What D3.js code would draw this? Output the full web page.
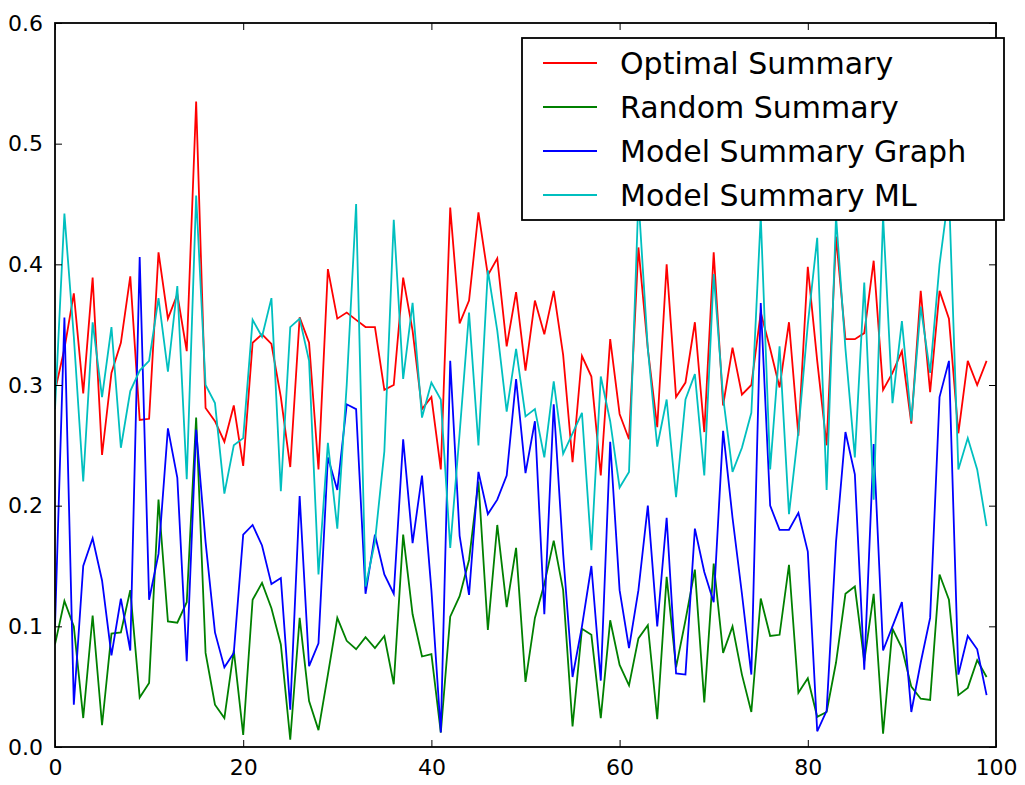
<!DOCTYPE html>
<html lang="en">
<head>
    <meta charset="UTF-8">
    <title>Summary scores</title>
    <style>
        body {
            margin: 0;
            padding: 0;
            background: #fff;
        }
        svg {
            font-family: "DejaVu Sans", sans-serif;
        }
        .series {
            fill: none;
            stroke-width: 1.8px;
            stroke-linejoin: miter;
        }
        .tick-label {
            font-size: 22px;
            fill: #000;
        }
        .legend text {
            font-size: 30px;
            fill: #000;
        }
    </style>
</head>
<body>
    <div id="chart"></div>

    <script src="https://d3js.org/d3.v7.min.js"></script>
    <script>
        // Values, one per document index 0..99
        const optimal = [
            0.295, 0.33, 0.376, 0.293, 0.389, 0.242, 0.31, 0.335, 0.39, 0.271,
            0.272, 0.41, 0.355, 0.375, 0.328, 0.535, 0.281, 0.27, 0.253, 0.283,
            0.233, 0.335, 0.342, 0.334, 0.29, 0.232, 0.356, 0.335, 0.23, 0.396,
            0.355, 0.36, 0.354, 0.348, 0.348, 0.296, 0.30, 0.389, 0.345, 0.28,
            0.29, 0.23, 0.447, 0.351, 0.37, 0.443, 0.391, 0.405, 0.332, 0.377,
            0.312, 0.37, 0.342, 0.378, 0.325, 0.236, 0.324, 0.307, 0.225, 0.338,
            0.276, 0.255, 0.414, 0.33, 0.265, 0.40, 0.29, 0.302, 0.352, 0.261,
            0.41, 0.283, 0.331, 0.292, 0.30, 0.36, 0.33, 0.298, 0.352, 0.258,
            0.398, 0.32, 0.25, 0.423, 0.338, 0.338, 0.343, 0.403, 0.296, 0.31,
            0.328, 0.268, 0.378, 0.294, 0.378, 0.355, 0.26, 0.32, 0.30, 0.32
        ];
        const random = [
            0.085, 0.121, 0.10, 0.024, 0.109, 0.018, 0.094, 0.095, 0.13, 0.041,
            0.053, 0.205, 0.104, 0.103, 0.12, 0.273, 0.078, 0.035, 0.024, 0.08,
            0.01, 0.122, 0.136, 0.115, 0.085, 0.006, 0.107, 0.038, 0.014, 0.06,
            0.107, 0.088, 0.081, 0.091, 0.082, 0.092, 0.052, 0.176, 0.11, 0.075,
            0.077, 0.012, 0.108, 0.125, 0.155, 0.22, 0.097, 0.184, 0.116, 0.165,
            0.054, 0.107, 0.135, 0.171, 0.13, 0.017, 0.098, 0.093, 0.024, 0.105,
            0.068, 0.051, 0.09, 0.101, 0.023, 0.141, 0.066, 0.105, 0.147, 0.037,
            0.152, 0.078, 0.10, 0.06, 0.029, 0.123, 0.092, 0.093, 0.151, 0.045,
            0.057, 0.025, 0.029, 0.07, 0.127, 0.133, 0.071, 0.127, 0.011, 0.098,
            0.082, 0.05, 0.04, 0.039, 0.143, 0.122, 0.043, 0.049, 0.072, 0.058
        ];
        const graph = [
            0.10, 0.356, 0.035, 0.15, 0.173, 0.138, 0.076, 0.123, 0.08, 0.406,
            0.122, 0.16, 0.264, 0.223, 0.071, 0.263, 0.17, 0.095, 0.066, 0.078,
            0.176, 0.184, 0.167, 0.135, 0.14, 0.031, 0.208, 0.067, 0.086, 0.24,
            0.213, 0.284, 0.28, 0.127, 0.176, 0.143, 0.127, 0.255, 0.169, 0.225,
            0.13, 0.012, 0.32, 0.175, 0.126, 0.228, 0.193, 0.205, 0.225, 0.305,
            0.227, 0.27, 0.11, 0.284, 0.16, 0.058, 0.10, 0.15, 0.055, 0.253,
            0.13, 0.082, 0.13, 0.20, 0.10, 0.19, 0.061, 0.06, 0.181, 0.145,
            0.12, 0.262, 0.19, 0.127, 0.06, 0.368, 0.20, 0.18, 0.18, 0.194,
            0.162, 0.013, 0.03, 0.17, 0.261, 0.226, 0.064, 0.251, 0.08, 0.10,
            0.12, 0.029, 0.07, 0.107, 0.29, 0.32, 0.06, 0.092, 0.081, 0.043
        ];
        const ml = [
            0.28, 0.442, 0.34, 0.22, 0.352, 0.29, 0.348, 0.248, 0.295, 0.312,
            0.32, 0.372, 0.311, 0.382, 0.222, 0.457, 0.30, 0.285, 0.21, 0.25,
            0.256, 0.354, 0.34, 0.372, 0.212, 0.348, 0.355, 0.32, 0.143, 0.252,
            0.181, 0.30, 0.45, 0.133, 0.17, 0.245, 0.437, 0.305, 0.368, 0.273,
            0.302, 0.288, 0.165, 0.26, 0.36, 0.25, 0.395, 0.345, 0.278, 0.33,
            0.274, 0.28, 0.24, 0.303, 0.243, 0.26, 0.277, 0.163, 0.307, 0.27,
            0.215, 0.228, 0.455, 0.33, 0.249, 0.288, 0.207, 0.288, 0.309, 0.225,
            0.392, 0.29, 0.228, 0.248, 0.277, 0.44, 0.23, 0.332, 0.193, 0.262,
            0.35, 0.422, 0.213, 0.44, 0.33, 0.24, 0.385, 0.205, 0.44, 0.285,
            0.353, 0.27, 0.365, 0.31, 0.40, 0.46, 0.23, 0.256, 0.23, 0.183
        ];

        const seriesNames = ["Optimal Summary", "Random Summary", "Model Summary Graph", "Model Summary ML"];
        const seriesColors = ["#ff0000", "#008000", "#0000ff", "#00bfbf"];
        const xTicks = [0, 20, 40, 60, 80, 100];
        const yTicks = [0.0, 0.1, 0.2, 0.3, 0.4, 0.5, 0.6];

        const allSeries = [optimal, random, graph, ml];

        // figure geometry
        const W = 1025, H = 785;
        const margin = { top: 23, right: 29, bottom: 38, left: 55 };
        const width = W - margin.left - margin.right;
        const height = H - margin.top - margin.bottom;

        const svg = d3.select("#chart").append("svg")
            .attr("width", W)
            .attr("height", H);

        const g = svg.append("g")
            .attr("transform", "translate(" + margin.left + "," + margin.top + ")");

        const x = d3.scaleLinear().domain([0, 100]).range([0, width]);
        const y = d3.scaleLinear().domain([0, 0.6]).range([height, 0]);

        g.append("clipPath").attr("id", "plot-clip")
            .append("rect").attr("width", width).attr("height", height);

        // lines
        const line = d3.line()
            .x((d, i) => x(i))
            .y(d => y(d));

        g.append("g").attr("clip-path", "url(#plot-clip)")
            .selectAll("path")
            .data(allSeries)
            .enter().append("path")
            .attr("class", "series")
            .attr("stroke", (d, i) => seriesColors[i])
            .attr("d", line);

        // axes: matplotlib classic style, ticks pointing inward on all sides
        const tickLen = 7;
        const axisStyle = sel => {
            sel.select(".domain").remove();
            sel.selectAll(".tick line").attr("stroke", "#000").attr("stroke-width", 1);
            sel.selectAll(".tick text").attr("class", "tick-label").style("font-family", "DejaVu Sans");
        };

        g.append("g")
            .attr("transform", "translate(0," + height + ")")
            .call(d3.axisBottom(x).tickValues(xTicks).tickFormat(d3.format("d"))
                .tickSizeInner(-tickLen).tickSizeOuter(0).tickPadding(12))
            .call(axisStyle);

        g.append("g")
            .call(d3.axisTop(x).tickValues(xTicks).tickFormat("")
                .tickSizeInner(-tickLen).tickSizeOuter(0))
            .call(axisStyle);

        g.append("g")
            .call(d3.axisLeft(y).tickValues(yTicks).tickFormat(d3.format(".1f"))
                .tickSizeInner(-tickLen).tickSizeOuter(0).tickPadding(12))
            .call(axisStyle);

        g.append("g")
            .attr("transform", "translate(" + width + ",0)")
            .call(d3.axisRight(y).tickValues(yTicks).tickFormat("")
                .tickSizeInner(-tickLen).tickSizeOuter(0))
            .call(axisStyle);

        // frame
        g.append("rect")
            .attr("width", width)
            .attr("height", height)
            .attr("fill", "none")
            .attr("stroke", "#000")
            .attr("stroke-width", 1.8);

        // legend, upper right
        const legend = g.append("g").attr("class", "legend");
        const lgLeft = 467, lgTop = 15, lgWidth = 482, lgRowH = 44;

        legend.append("rect")
            .attr("x", lgLeft)
            .attr("y", lgTop)
            .attr("width", lgWidth)
            .attr("height", 182)
            .attr("fill", "#fff")
            .attr("stroke", "#000")
            .attr("stroke-width", 1.8);

        const rows = legend.selectAll(".row")
            .data(seriesNames)
            .enter().append("g")
            .attr("class", "row")
            .attr("transform", (d, i) => "translate(" + lgLeft + "," + (lgTop + 25 + i * lgRowH) + ")");

        rows.append("line")
            .attr("x1", 21).attr("x2", 75)
            .attr("stroke", (d, i) => seriesColors[i])
            .attr("stroke-width", 1.8);

        rows.append("text")
            .attr("x", 98)
            .attr("dy", "0.35em")
            .text(d => d);
    </script>
</body>
</html>
